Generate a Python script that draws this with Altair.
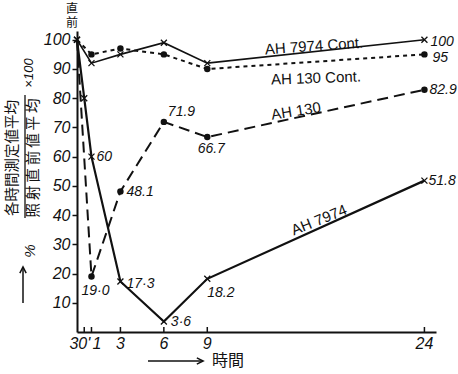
import altair as alt
import pandas as pd

# Hours after irradiation (0 = immediately before) and relative values (%)
hours_7974 = [0, 0.5, 1, 3, 6, 9, 24]
ah7974 = [100, 80, 60, 17.3, 3.6, 18.2, 51.8]
hours_130 = [0, 1, 3, 6, 9, 24]
ah130 = [100, 19.0, 48.1, 71.9, 66.7, 82.9]
hours_cont = [0, 1, 3, 6, 9, 24]
ah7974_cont = [100, 92, 95, 99, 92, 100]
ah130_cont = [100, 95, 97, 95, 90, 95]

tick_hours = [0.5, 1, 3, 6, 9, 24]
tick_labels = ["30'", "1", "3", "6", "9", "24"]
y_ticks = [10, 20, 30, 40, 50, 60, 70, 80, 90, 100]

rows = []
for name, hs, vs in [("AH 7974", hours_7974, ah7974),
                     ("AH 130", hours_130, ah130),
                     ("AH 7974 Cont.", hours_cont, ah7974_cont),
                     ("AH 130 Cont.", hours_cont, ah130_cont)]:
    for h, v in zip(hs, vs):
        rows.append({"series": name, "hour": h, "value": v})
df = pd.DataFrame(rows)

W, H = 359, 301
NUM = "Liberation Sans, Arial, sans-serif"
JP = "Noto Sans CJK JP"
INK = "#111111"

xs = alt.Scale(domain=[0, 24.8], nice=False, zero=False)
ys = alt.Scale(domain=[0, 103], nice=False)
x_axis = alt.Axis(title=None, labels=False, ticks=False, grid=False,
                  domainWidth=2, domainColor=INK)
y_axis = alt.Axis(title=None, values=y_ticks, grid=False, domainWidth=2,
                  domainColor=INK, tickSize=5, tickWidth=1.5, tickColor=INK,
                  labelFont=NUM, labelFontStyle="italic", labelFontSize=16,
                  labelColor=INK, labelPadding=2)


def X(field="hour"):
    return alt.X(f"{field}:Q", scale=xs, axis=x_axis)


def Y(field="value"):
    return alt.Y(f"{field}:Q", scale=ys, axis=y_axis)


line_styles = {
    "AH 7974": dict(strokeWidth=2.2),
    "AH 7974 Cont.": dict(strokeWidth=1.6),
    "AH 130": dict(strokeWidth=2, strokeDash=[11, 6]),
    "AH 130 Cont.": dict(strokeWidth=2, strokeDash=[4, 4]),
}

layers = []
for name, style in line_styles.items():
    layers.append(
        alt.Chart(df[df.series == name]).mark_line(color=INK, **style)
        .encode(x=X(), y=Y())
    )

cross = "M-1,-1L1,1M1,-1L-1,1"
cross_pts = df[df.series.isin(["AH 7974", "AH 7974 Cont."])]
dot_pts = df[df.series.isin(["AH 130", "AH 130 Cont."]) & (df.hour > 0)]
layers.append(
    alt.Chart(cross_pts).mark_point(shape=cross, filled=False, stroke=INK,
                                    strokeWidth=1.3, size=36, opacity=1)
    .encode(x=X(), y=Y())
)
layers.append(
    alt.Chart(dot_pts).mark_point(shape="circle", filled=True, color=INK,
                                  size=42, opacity=1)
    .encode(x=X(), y=Y())
)

# value labels next to individual points: (series, hour, format, dx, dy, align)
value_labels = [
    ("AH 7974", 1, "g", 5, 0, "left"),
    ("AH 7974", 3, ".1f", 6, 3, "left"),
    ("AH 7974", 6, ".1f", 7, 1, "left"),
    ("AH 7974", 9, ".1f", 0, 14, "left"),
    ("AH 7974", 24, ".1f", 4, 0, "left"),
    ("AH 130", 1, ".1f", 4, 15, "center"),
    ("AH 130", 3, ".1f", 6, 1, "left"),
    ("AH 130", 6, ".1f", 4, -10, "left"),
    ("AH 130", 9, ".1f", 4, 12, "center"),
    ("AH 130", 24, ".1f", 5, 0, "left"),
    ("AH 130 Cont.", 24, "g", 8, 4, "left"),
    ("AH 7974 Cont.", 24, "g", 6, 2, "left"),
]
mid_dot = {("AH 130", 1), ("AH 7974", 3), ("AH 7974", 6)}
for name, h, fmt, dx, dy, align in value_labels:
    sub = df[(df.series == name) & (df.hour == h)].copy()
    txt = format(float(sub.value.iloc[0]), fmt)
    if (name, h) in mid_dot:
        txt = txt.replace(".", "\u00b7")
    sub["label"] = txt
    layers.append(
        alt.Chart(sub).mark_text(dx=dx, dy=dy, align=align, baseline="middle",
                                 font=NUM, fontStyle="italic", fontSize=14,
                                 color=INK)
        .encode(x=X(), y=Y(), text="label:N")
    )

# series names written along the lines
series_names = [
    ("AH 7974 Cont.", 237, 15, 356),
    ("AH 130 Cont.", 239, 47, 358),
    ("AH 130", 219, 80, 351),
    ("AH 7974", 242, 189, 338),
]
blank = alt.Data(values=[{}])
for txt, px, py, ang in series_names:
    layers.append(
        alt.Chart(blank).mark_text(font=NUM, fontSize=15, color=INK,
                                   angle=ang, align="center",
                                   baseline="middle")
        .encode(x=alt.value(px), y=alt.value(py), text=alt.value(txt))
    )

# x-axis ticks (pointing into the plot) and their labels
ticks_df = pd.DataFrame({"hour": tick_hours, "label": tick_labels})
layers.append(
    alt.Chart(ticks_df).mark_rule(color=INK, strokeWidth=1.5)
    .encode(x=X(), y=alt.value(H), y2=alt.value(H - 5))
)
layers.append(
    alt.Chart(ticks_df[ticks_df.hour > 1]).mark_text(
        font=NUM, fontStyle="italic", fontSize=16, color=INK,
        align="center", baseline="middle", dy=12)
    .encode(x=X(), y=alt.value(H), text="label:N")
)
layers.append(
    alt.Chart(ticks_df[ticks_df.hour == 1]).mark_text(
        font=NUM, fontStyle="italic", fontSize=16, color=INK,
        align="left", baseline="middle", dy=12, dx=1)
    .encode(x=X(), y=alt.value(H), text="label:N")
)
layers.append(
    alt.Chart(ticks_df[ticks_df.hour == 0.5]).mark_text(
        font=NUM, fontStyle="italic", fontSize=16, color=INK,
        align="right", baseline="middle", dy=12, dx=6)
    .encode(x=X(), y=alt.value(H), text="label:N")
)


def note(txt, px, py, size, font=JP, angle=0, style="normal", **extra):
    kw = dict(font=font, fontSize=size, color=INK, align="center",
              baseline="middle", fontStyle=style)
    kw.update(extra)
    if angle:
        kw["angle"] = angle
    return (alt.Chart(blank).mark_text(**kw)
            .encode(x=alt.value(px), y=alt.value(py), text=alt.value(txt)))


def rule(x1, y1, x2, y2, w=1.5):
    return (alt.Chart(blank).mark_rule(color=INK, strokeWidth=w)
            .encode(x=alt.value(x1), y=alt.value(y1),
                    x2=alt.value(x2), y2=alt.value(y2)))


def head(px, py, shape):
    return (alt.Chart(blank).mark_point(shape=shape, filled=False, stroke=INK,
                                        strokeWidth=1.5, size=40, opacity=1)
            .encode(x=alt.value(px), y=alt.value(py)))


# y-axis title: (mean at each time / mean just before irradiation) x 100, %
layers += [
    note("各時間測定値平均", -64, 127, 14.5, angle=270),
    note("\u2009".join("照射直前値平均"), -43, 127, 14.5, angle=270),
    rule(-52, 64, -52, 187, 1.3),
    note("×100", -48, 42, 13, font=NUM, angle=270, style="italic"),
    note("%", -47, 220, 15, font=NUM, angle=270, style="italic"),
    rule(-54, 272, -54, 237, 1.5),
    head(-54, 239, "M-1,1L0,-1L1,1"),
    # label at the top of the y axis (just before irradiation), stacked
    note("直\n前", -5, -27, 12, baseline="top", lineBreak="\n",
         lineHeight=14),
    # x-axis title: time
    rule(71, 330, 125, 330, 1.5),
    head(123, 330, "M-1,-1L1,0L-1,1"),
    note("時間", 151, 330, 16),
]

chart = (
    alt.layer(*layers)
    .properties(width=W, height=H,
                padding={"left": 77, "top": 31, "right": 22, "bottom": 42},
                autosize=alt.AutoSizeParams(type="none"),
                background="white")
    .configure_view(stroke=None)
)

chart.save("out.html", embed_options={"renderer": "svg", "actions": False})
